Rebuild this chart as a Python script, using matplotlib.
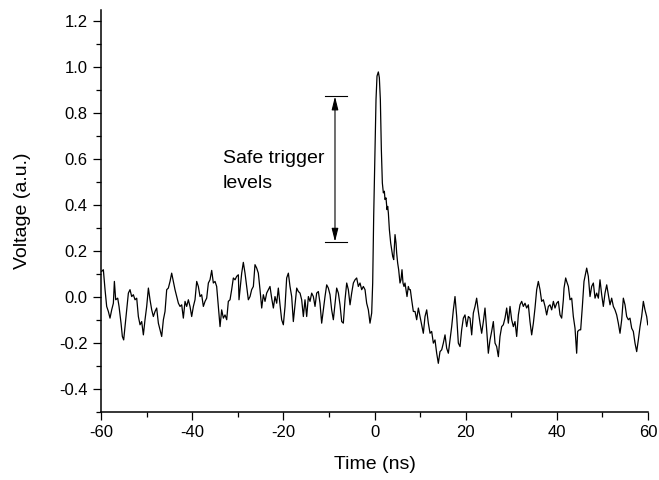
import matplotlib
matplotlib.use("Agg")
import matplotlib.pyplot as plt
from matplotlib.ticker import MultipleLocator

plt.rcParams['font.family'] = ['Liberation Sans', 'DejaVu Sans']

# trace (time in ns, voltage in a.u.)
time_ns = [
    -59.85, -59.49, -59.12, -58.76, -58.39, -58.03, -57.66, -57.29, -57.07, -56.78,
    -56.34, -56.05, -55.61, -55.32, -55.03, -54.59, -54.30, -54.00, -53.64, -53.27,
    -52.91, -52.54, -52.17, -51.81, -51.44, -51.08, -50.71, -50.35, -49.98, -49.61,
    -49.25, -48.88, -48.52, -48.15, -47.79, -47.42, -47.06, -46.69, -46.32, -45.96,
    -45.59, -45.23, -44.86, -44.50, -44.13, -43.77, -43.40, -43.03, -42.67, -42.30,
    -41.94, -41.57, -41.21, -40.84, -40.48, -40.11, -39.74, -39.38, -39.01, -38.65,
    -38.28, -37.92, -37.55, -37.18, -36.82, -36.45, -36.09, -35.72, -35.36, -34.99,
    -34.63, -34.26, -33.89, -33.53, -33.16, -32.80, -32.43, -32.07, -31.70, -31.34,
    -30.97, -30.60, -30.24, -29.87, -29.73, -29.51, -29.14, -28.78, -28.41, -28.04,
    -27.68, -27.31, -26.95, -26.58, -26.22, -25.85, -25.49, -25.12, -24.75, -24.39,
    -24.02, -23.66, -23.29, -22.93, -22.56, -22.19, -21.83, -21.46, -21.10, -20.73,
    -20.37, -20.00, -19.63, -19.27, -18.90, -18.54, -18.17, -17.81, -17.44, -17.07,
    -16.71, -16.34, -15.98, -15.61, -15.25, -14.88, -14.51, -14.15, -13.78, -13.42,
    -13.05, -12.69, -12.32, -11.96, -11.59, -11.22, -10.86, -10.49, -10.13, -9.76,
    -9.40, -9.03, -8.66, -8.30, -7.93, -7.57, -7.20, -6.84, -6.47, -6.10,
    -5.74, -5.37, -5.01, -4.64, -4.28, -3.91, -3.55, -3.18, -2.81, -2.45,
    -2.08, -1.72, -1.35, -0.99, -0.62, -0.40, -0.18, 0.11, 0.33, 0.55,
    0.84, 1.06, 1.28, 1.50, 1.72, 1.94, 2.16, 2.30, 2.52, 2.74,
    2.89, 3.04, 3.26, 3.55, 3.77, 3.99, 4.21, 4.50, 4.72, 4.86,
    5.08, 5.30, 5.59, 5.81, 6.03, 6.25, 6.47, 6.69, 6.91, 7.13,
    7.42, 7.64, 7.86, 8.15, 8.52, 8.89, 9.25, 9.62, 9.98, 10.35,
    10.71, 11.08, 11.45, 11.81, 12.18, 12.54, 12.91, 13.27, 13.64, 14.00,
    14.37, 14.74, 15.10, 15.47, 15.83, 16.20, 16.56, 16.93, 17.30, 17.66,
    18.03, 18.39, 18.76, 19.12, 19.49, 19.85, 20.22, 20.59, 20.95, 21.32,
    21.68, 22.05, 22.41, 22.78, 23.15, 23.51, 23.88, 24.24, 24.61, 24.97,
    25.34, 25.70, 26.07, 26.44, 26.80, 27.17, 27.53, 27.90, 28.26, 28.63,
    29.00, 29.36, 29.73, 30.09, 30.46, 30.82, 31.19, 31.56, 31.92, 32.29,
    32.65, 33.02, 33.38, 33.75, 34.11, 34.48, 34.85, 35.21, 35.58, 35.94,
    36.31, 36.67, 37.04, 37.41, 37.77, 38.14, 38.50, 38.87, 39.24, 39.60,
    39.97, 40.33, 40.70, 41.06, 41.43, 41.58, 41.94, 42.16, 42.53, 42.89,
    43.26, 43.62, 43.99, 44.35, 44.57, 44.94, 45.23, 45.60, 45.96, 46.33,
    46.55, 46.91, 47.28, 47.64, 48.01, 48.38, 48.74, 49.11, 49.47, 49.84,
    50.20, 50.57, 50.94, 51.30, 51.67, 52.03, 52.40, 52.76, 53.13, 53.49,
    53.86, 54.23, 54.59, 54.96, 55.32, 55.69, 56.05, 56.42, 56.78, 57.15,
    57.52, 57.88, 58.25, 58.61, 58.98, 59.34, 59.71, 59.95,
]
voltage = [
    0.111, 0.118, 0.031, -0.042, -0.064, -0.093, -0.057, -0.028, 0.067, -0.013,
    -0.006, -0.042, -0.115, -0.173, -0.188, -0.100, -0.042, 0.016, 0.031, 0.001,
    0.009, -0.013, -0.006, -0.086, -0.122, -0.108, -0.166, -0.100, -0.042, 0.038,
    -0.013, -0.057, -0.086, -0.064, -0.049, -0.115, -0.144, -0.173, -0.100, -0.064,
    0.031, 0.038, 0.067, 0.103, 0.067, 0.031, 0.001, -0.028, -0.042, -0.035,
    -0.093, -0.020, -0.042, -0.013, -0.042, -0.086, -0.042, -0.013, 0.067, 0.045,
    0.001, 0.009, -0.042, -0.020, -0.006, 0.060, 0.074, 0.115, 0.060, 0.067,
    0.045, -0.042, -0.130, -0.057, -0.093, -0.079, -0.100, -0.020, -0.013, 0.031,
    0.082, 0.074, 0.089, 0.096, -0.013, 0.031, 0.103, 0.150, 0.103, 0.045,
    -0.013, 0.001, 0.031, 0.045, 0.140, 0.125, 0.103, 0.031, -0.049, 0.009,
    -0.020, 0.016, 0.031, 0.045, -0.006, -0.049, 0.001, -0.028, 0.038, -0.035,
    -0.100, -0.122, -0.042, 0.082, 0.103, 0.045, 0.001, -0.108, -0.035, 0.038,
    0.023, 0.016, -0.013, -0.086, -0.013, -0.086, 0.001, -0.020, 0.016, 0.001,
    -0.042, 0.016, 0.023, -0.028, -0.115, -0.057, 0.001, 0.052, 0.038, 0.009,
    -0.057, -0.100, -0.028, 0.038, 0.016, -0.035, -0.108, -0.115, -0.013, 0.060,
    0.031, -0.035, 0.016, 0.060, 0.074, 0.082, 0.045, 0.060, 0.031, 0.045,
    0.031, -0.028, -0.057, -0.115, -0.071, 0.060, 0.351, 0.642, 0.860, 0.962,
    0.980, 0.955, 0.860, 0.642, 0.496, 0.453, 0.460, 0.424, 0.431, 0.380,
    0.394, 0.365, 0.293, 0.234, 0.205, 0.176, 0.162, 0.271, 0.234, 0.191,
    0.147, 0.118, 0.060, 0.074, 0.118, 0.060, 0.045, 0.060, 0.031, 0.001,
    0.045, 0.031, 0.031, -0.013, -0.064, -0.064, -0.100, -0.049, -0.086, -0.122,
    -0.159, -0.086, -0.057, -0.115, -0.159, -0.151, -0.202, -0.188, -0.246, -0.290,
    -0.239, -0.231, -0.202, -0.166, -0.224, -0.246, -0.188, -0.130, -0.057, 0.001,
    -0.086, -0.202, -0.217, -0.144, -0.093, -0.079, -0.130, -0.086, -0.093, -0.166,
    -0.071, -0.042, -0.006, -0.064, -0.115, -0.159, -0.108, -0.049, -0.144, -0.246,
    -0.188, -0.151, -0.108, -0.202, -0.217, -0.261, -0.173, -0.130, -0.122, -0.093,
    -0.049, -0.115, -0.042, -0.100, -0.130, -0.108, -0.173, -0.079, -0.035, -0.020,
    -0.042, -0.028, -0.049, -0.035, -0.108, -0.166, -0.115, -0.049, 0.031, 0.067,
    0.031, -0.020, -0.013, -0.042, -0.079, -0.042, -0.035, -0.057, -0.020, -0.049,
    -0.028, -0.020, -0.079, -0.093, -0.013, 0.038, 0.082, 0.067, 0.045, -0.013,
    -0.006, -0.086, -0.137, -0.246, -0.151, -0.144, -0.144, -0.042, 0.067, 0.103,
    0.125, 0.089, 0.001, 0.045, 0.060, -0.006, 0.016, -0.006, 0.074, 0.009,
    -0.042, 0.016, 0.052, 0.009, -0.035, -0.006, -0.042, -0.057, -0.079, -0.115,
    -0.159, -0.100, -0.006, -0.035, -0.086, -0.100, -0.093, -0.137, -0.151, -0.202,
    -0.239, -0.188, -0.130, -0.086, -0.020, -0.057, -0.086, -0.122,
]

# annotation: range of safe trigger levels
arrow_x = -8.67
bar_x = [-10.86, -6.14]
level_low = 0.24
level_high = 0.873

fig = plt.figure(figsize=(6.59, 4.80), dpi=100)
ax = fig.add_axes([0.1533, 0.1427, 0.830, 0.8365])

ax.plot(time_ns, voltage, color='black', linewidth=0.9)

# horizontal bars and double arrow
ax.plot(bar_x, [level_high, level_high], color='black', linewidth=0.8)
ax.plot(bar_x, [level_low, level_low], color='black', linewidth=0.8)
ax.annotate('', xy=(arrow_x, level_high), xytext=(arrow_x, level_low),
            arrowprops=dict(arrowstyle='<|-|>,head_length=0.8,head_width=0.2',
                            color='black', lw=0.8,
                            mutation_scale=10, shrinkA=0, shrinkB=0))
ax.text(-33.24, 0.585, 'Safe trigger', fontsize=14, va='baseline', ha='left')
ax.text(-33.24, 0.472, 'levels', fontsize=14, va='baseline', ha='left')

ax.set_xlim(-60, 60)
ax.set_ylim(-0.5, 1.25)
ax.xaxis.set_minor_locator(MultipleLocator(10))
ax.yaxis.set_minor_locator(MultipleLocator(0.1))
ax.set_yticks([-0.4, -0.2, 0.0, 0.2, 0.4, 0.6, 0.8, 1.0, 1.2])
ax.set_yticklabels(['-0.4', '-0.2', '0.0', '0.2', '0.4', '0.6', '0.8', '1.0', '1.2'])
ax.set_xticks([-60, -40, -20, 0, 20, 40, 60])
ax.set_xticklabels(['-60', '-40', '-20', '0', '20', '40', '60'])

ax.spines['top'].set_visible(False)
ax.spines['right'].set_visible(False)
for s in ['left', 'bottom']:
    ax.spines[s].set_linewidth(1.1)
ax.tick_params(which='major', direction='out', length=6, width=0.9, labelsize=12)
ax.tick_params(which='minor', direction='out', length=3.5, width=0.9)

ax.set_xlabel('Time (ns)', fontsize=14, labelpad=12)
ax.set_ylabel('Voltage (a.u.)', fontsize=14, labelpad=20)

fig.savefig('out.png', dpi=100)
